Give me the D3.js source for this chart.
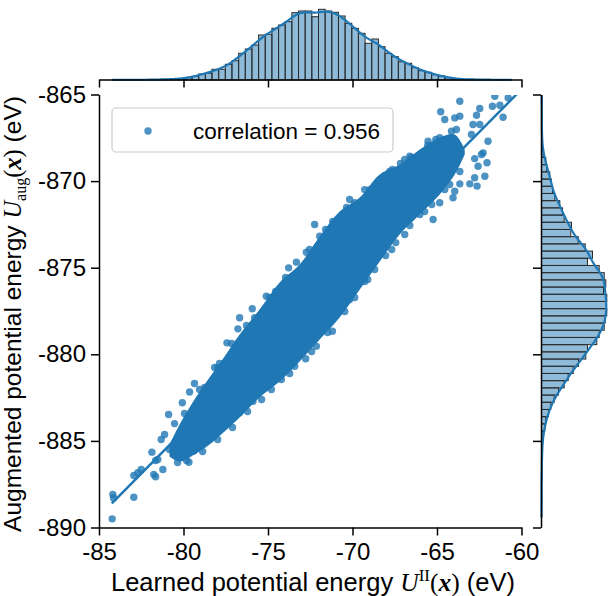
<!DOCTYPE html>
<html>
<head>
<meta charset="utf-8">
<script src="https://cdn.jsdelivr.net/npm/d3@7"></script>
<style>
  body { margin: 0; background: #fff; }
  svg { display: block; }
</style>
</head>
<body>
<div id="chart"></div>
<script>
// ---- data ----
const xTicks = [-85, -80, -75, -70, -65, -60];
const yTicks = [-890, -885, -880, -875, -870, -865];
const corrLabel = "correlation = 0.956";

// fitted line y = slope * x + intercept over the data range
const regSlope = 0.986, regIntercept = -805.54;
const regRange = [-84.24, -60.2];

// dense core of the scatter cloud (x, lower edge, upper edge)
const coreX    = [-80.83, -80.23, -79.35, -78.46, -77.57, -76.68, -75.50, -74.31, -73.13, -71.94, -70.76, -69.57, -68.39, -67.21, -66.02, -64.84, -63.95, -63.36];
const coreLow  = [-885.90, -886.19, -885.79, -885.21, -884.46, -883.65, -882.49, -881.57, -880.42, -879.15, -877.88, -876.26, -874.64, -873.08, -871.93, -870.77, -869.62, -868.46];
const coreHigh = [-885.21, -884.05, -882.61, -881.34, -880.13, -878.86, -877.41, -875.85, -874.82, -873.20, -871.76, -870.95, -869.62, -869.04, -868.18, -867.48, -867.31, -868.18];

// loose points around the core
const loosePoints = [
  [-84.22,-889.50],[-84.18,-888.09],[-84.14,-888.30],[-82.94,-888.25],[-82.94,-887.00],[-82.70,-886.84],
  [-82.50,-886.65],[-81.76,-886.94],[-81.65,-887.07],[-81.22,-886.65],[-81.87,-885.65],[-81.65,-886.13],
  [-81.52,-886.07],[-81.32,-884.92],[-81.12,-884.63],[-80.88,-883.48],[-80.53,-884.00],[-80.07,-882.80],
  [-79.64,-882.18],[-79.35,-881.69],[-79.68,-886.23],[-79.39,-885.59],[-80.83,-885.50],[-79.05,-885.32],
  [-78.46,-884.92],[-77.97,-880.78],[-77.43,-879.34],[-76.78,-878.53],[-76.68,-877.89],[-75.93,-877.37],
  [-75.10,-876.65],[-73.78,-875.01],[-73.32,-874.68],[-72.73,-874.11],[-72.24,-872.51],[-71.94,-873.18],
  [-71.19,-878.67],[-72.14,-879.53],[-72.77,-880.26],[-73.42,-880.69],[-74.21,-881.46],[-74.80,-882.03],
  [-75.89,-882.71],[-76.68,-883.38],[-77.37,-883.76],
  [-63.65,-865.39],[-64.78,-866.00],[-63.95,-866.35],[-63.65,-866.25],[-64.54,-866.44],[-62.47,-865.81],
  [-62.66,-866.20],[-61.72,-865.68],[-61.09,-866.31],[-61.28,-865.62],[-61.58,-865.10],[-60.79,-865.19],
  [-62.87,-866.73],[-62.47,-866.73],[-64.14,-867.12],[-63.85,-867.02],[-62.96,-867.31],[-65.53,-867.70],
  [-64.84,-867.50],[-61.98,-867.70],[-62.27,-868.37],[-62.37,-868.46],[-62.77,-868.70],[-62.04,-868.94],
  [-62.57,-869.14],[-62.17,-869.72],[-63.06,-870.16],[-62.63,-870.29],[-62.77,-869.81],[-63.65,-870.16],
  [-63.95,-870.58],[-64.05,-870.96],[-64.84,-871.25],[-65.23,-872.22],[-66.02,-871.93],[-67.16,-868.98],
  [-66.61,-868.56],[-67.64,-869.33],
  [-70.17,-871.06],[-69.28,-870.49],[-68.09,-869.68],[-66.91,-868.75],[-70.17,-876.84],[-69.28,-875.80],
  [-67.68,-873.95],[-66.91,-873.08],[-65.73,-871.76],[-64.54,-870.49],
  // upper rim of the core
  [-79.94,-883.42],[-79.05,-882.03],[-78.75,-881.92],[-78.16,-880.76],[-77.87,-880.53],[-77.15,-879.38],
  [-76.27,-878.34],[-75.79,-877.88],[-74.90,-876.72],[-74.55,-876.37],[-73.96,-875.57],[-72.54,-873.95],
  [-71.59,-872.79],[-71.17,-872.33],[-70.35,-871.52],[-69.87,-871.24],[-68.98,-870.49],[-67.80,-869.45],
  [-66.50,-868.64],[-65.55,-867.94],[-65.07,-867.60],
  // lower rim of the core
  [-80.35,-886.25],[-79.82,-886.13],[-78.87,-885.61],[-77.98,-884.92],[-77.10,-884.23],[-76.21,-883.30],
  [-75.38,-882.61],[-73.72,-881.11],[-72.42,-879.84],[-71.47,-878.74],[-70.46,-877.53],[-69.87,-876.72],
  [-69.10,-875.68],[-68.69,-875.10],[-68.04,-874.30],[-67.44,-873.55],[-66.61,-872.56],[-65.31,-871.35],
  [-64.25,-870.20],[-63.65,-869.45]
];

// marginal histograms (60 bins each)
const histXStart = -84.22, histXWidth = 0.3938;
const histXCounts = [3,0,0,3,1,2,5,5,7,10,
  13,23,37,60,67,107,107,157,193,267,310,350,450,457,517,550,583,673,690,690,633,707,690,677,640,567,517,467,367,410,333,267,233,183,167,123,93,77,53,40,23,13,7,
  5,6,4,3,2,2,1];
const histYStart = -889.42, histYWidth = 0.4157;
const histYCounts = [1,0,2,1,0,3,3,4,5,7,
  10,17,33,43,70,93,127,170,227,267,317,370,443,460,553,577,627,637,653,650,653,620,643,627,577,460,510,437,367,293,300,227,210,183,133,110,100,83,53,43,17,
  10,6,4,3,5,3,3,3,1];

// ---- layout ----
const W = 608, H = 596;
const blue = "#1f77b4";
const sans = "'Liberation Sans', Arial, sans-serif";
const serif = "'Liberation Serif', 'Times New Roman', serif";

const svg = d3.select("#chart").append("svg")
  .attr("width", W).attr("height", H)
  .style("font-family", sans);

const x = d3.scaleLinear().domain([-85, -60]).range([99, 521.5]);
const y = d3.scaleLinear().domain([-890, -865]).range([527.5, 94.5]);

const margBaseTop = 80, margBaseRight = 541.5, margSize = 86.6, countMax = 866;
const cTop = d3.scaleLinear().domain([0, countMax]).range([margBaseTop, margBaseTop - margSize]);
const cRight = d3.scaleLinear().domain([0, countMax]).range([margBaseRight, margBaseRight + margSize]);

// smoothed density from the binned counts (gaussian kernel, Scott bandwidth)
function smooth(start, width, counts) {
  const centers = counts.map((c, i) => start + (i + 0.5) * width);
  const n = d3.sum(counts);
  const mean = d3.sum(counts, (c, i) => c * centers[i]) / n;
  const sd = Math.sqrt(d3.sum(counts, (c, i) => c * (centers[i] - mean) ** 2) / n);
  const bw = sd * Math.pow(n, -0.2);
  const lo = start, hi = start + counts.length * width;
  return d3.range(0, 241).map(k => {
    const g = lo + (hi - lo) * k / 240;
    const v = d3.sum(counts, (c, i) => c * width / bw * Math.exp(-0.5 * ((g - centers[i]) / bw) ** 2)) / Math.sqrt(2 * Math.PI);
    return [g, v];
  });
}

// ---- top marginal ----
const gTop = svg.append("g");
gTop.selectAll("rect").data(histXCounts.map((c, i) => ({c, i})).filter(d => d.c > 0)).enter()
  .append("rect")
    .attr("x", d => x(histXStart + d.i * histXWidth))
    .attr("width", d => x(histXStart + (d.i + 1) * histXWidth) - x(histXStart + d.i * histXWidth))
    .attr("y", d => cTop(d.c))
    .attr("height", d => margBaseTop - cTop(d.c))
    .attr("fill", blue).attr("fill-opacity", 0.5)
    .attr("stroke", "#2b2b2b").attr("stroke-width", 1);
gTop.append("path")
  .datum(smooth(histXStart, histXWidth, histXCounts))
  .attr("fill", "none").attr("stroke", blue).attr("stroke-width", 2.2)
  .attr("d", d3.line().x(d => x(d[0])).y(d => cTop(d[1])));
svg.append("g").attr("transform", `translate(0,${margBaseTop - 0.5})`)
  .call(d3.axisBottom(x).tickValues(xTicks).tickFormat("").tickSize(8).tickSizeOuter(0))
  .call(g => g.selectAll("path,line").attr("stroke", "#000").attr("stroke-width", 1.5));

// ---- right marginal ----
svg.append("clipPath").attr("id", "clipRight")
  .append("rect").attr("x", margBaseRight - 2).attr("y", 95).attr("width", 100).attr("height", 433);
const gRight = svg.append("g").attr("clip-path", "url(#clipRight)");
gRight.selectAll("rect").data(histYCounts.map((c, i) => ({c, i})).filter(d => d.c > 0)).enter()
  .append("rect")
    .attr("y", d => y(histYStart + (d.i + 1) * histYWidth))
    .attr("height", d => y(histYStart + d.i * histYWidth) - y(histYStart + (d.i + 1) * histYWidth))
    .attr("x", margBaseRight)
    .attr("width", d => cRight(d.c) - margBaseRight)
    .attr("fill", blue).attr("fill-opacity", 0.5)
    .attr("stroke", "#2b2b2b").attr("stroke-width", 1);
gRight.append("path")
  .datum(smooth(histYStart, histYWidth, histYCounts))
  .attr("fill", "none").attr("stroke", blue).attr("stroke-width", 2.2)
  .attr("d", d3.line().x(d => cRight(d[1])).y(d => y(d[0])));
svg.append("g").attr("transform", `translate(${margBaseRight - 0.5},0)`)
  .call(d3.axisLeft(y).tickValues(yTicks).tickFormat("").tickSize(8).tickSizeOuter(0))
  .call(g => g.selectAll("path,line").attr("stroke", "#000").attr("stroke-width", 1.5));

// ---- joint scatter ----
svg.append("clipPath").attr("id", "clipMain")
  .append("rect").attr("x", 99.5).attr("y", 95).attr("width", 422.5).attr("height", 433);
const gMain = svg.append("g").attr("clip-path", "url(#clipMain)");

gMain.append("path")
  .datum(coreX.map((v, i) => [v, coreLow[i], coreHigh[i]]))
  .attr("fill", blue)
  .attr("d", d3.area().curve(d3.curveCatmullRom)
    .x(d => x(d[0])).y0(d => y(d[1])).y1(d => y(d[2])));

gMain.selectAll("circle").data(loosePoints).enter()
  .append("circle")
    .attr("cx", d => x(d[0]))
    .attr("cy", d => y(d[1]))
    .attr("r", 3.7)
    .attr("fill", blue).attr("fill-opacity", 0.8);

gMain.append("line")
  .attr("x1", x(regRange[0])).attr("y1", y(regSlope * regRange[0] + regIntercept))
  .attr("x2", x(regRange[1])).attr("y2", y(regSlope * regRange[1] + regIntercept))
  .attr("stroke", blue).attr("stroke-width", 2.5);

// ---- axes ----
const gx = svg.append("g").attr("transform", "translate(0,527.5)")
  .call(d3.axisBottom(x).tickValues(xTicks).tickFormat(d => String(d)).tickSize(8).tickSizeOuter(0).tickPadding(7));
const gy = svg.append("g").attr("transform", "translate(99,0)")
  .call(d3.axisLeft(y).tickValues(yTicks).tickFormat(d => String(d)).tickSize(8).tickSizeOuter(0).tickPadding(5));
[gx, gy].forEach(g => {
  g.selectAll("path,line").attr("stroke", "#000").attr("stroke-width", 1.5);
  g.selectAll("text").attr("fill", "#000").style("font-size", "24px").style("font-family", sans);
});

// ---- legend ----
const lg = svg.append("g");
lg.append("rect").attr("x", 112).attr("y", 108).attr("width", 281).attr("height", 44)
  .attr("rx", 4).attr("fill", "#fff").attr("fill-opacity", 0.8)
  .attr("stroke", "#cccccc").attr("stroke-width", 1.2);
lg.append("circle").attr("cx", 148).attr("cy", 131).attr("r", 3.7)
  .attr("fill", blue).attr("fill-opacity", 0.8);
lg.append("text").attr("x", 193).attr("y", 138.5)
  .style("font-size", "22.5px").attr("fill", "#000").text(corrLabel);

// ---- axis labels ----
const xl = svg.append("text").attr("x", 313).attr("y", 590.5)
  .attr("text-anchor", "middle").style("font-size", "25.5px").attr("fill", "#000");
xl.append("tspan").text("Learned potential energy ");
xl.append("tspan").style("font-family", serif).style("font-style", "italic").text("U");
xl.append("tspan").style("font-family", serif).style("font-size", "17px").attr("dy", -10).text("II");
xl.append("tspan").style("font-family", serif).attr("dy", 10).text("(");
xl.append("tspan").style("font-family", serif).style("font-style", "italic").style("font-weight", "bold").text("x");
xl.append("tspan").style("font-family", serif).text(")");
xl.append("tspan").text(" (eV)");

const yl = svg.append("text").attr("transform", "translate(21,314) rotate(-90)")
  .attr("text-anchor", "middle").style("font-size", "24.5px").attr("fill", "#000");
yl.append("tspan").text("Augmented potential energy ");
yl.append("tspan").style("font-family", serif).style("font-style", "italic").text("U");
yl.append("tspan").style("font-family", serif).style("font-size", "16px").attr("dy", 5).text("aug");
yl.append("tspan").style("font-family", serif).attr("dy", -5).text("(");
yl.append("tspan").style("font-family", serif).style("font-style", "italic").style("font-weight", "bold").text("x");
yl.append("tspan").style("font-family", serif).text(")");
yl.append("tspan").text(" (eV)");
</script>
</body>
</html>
